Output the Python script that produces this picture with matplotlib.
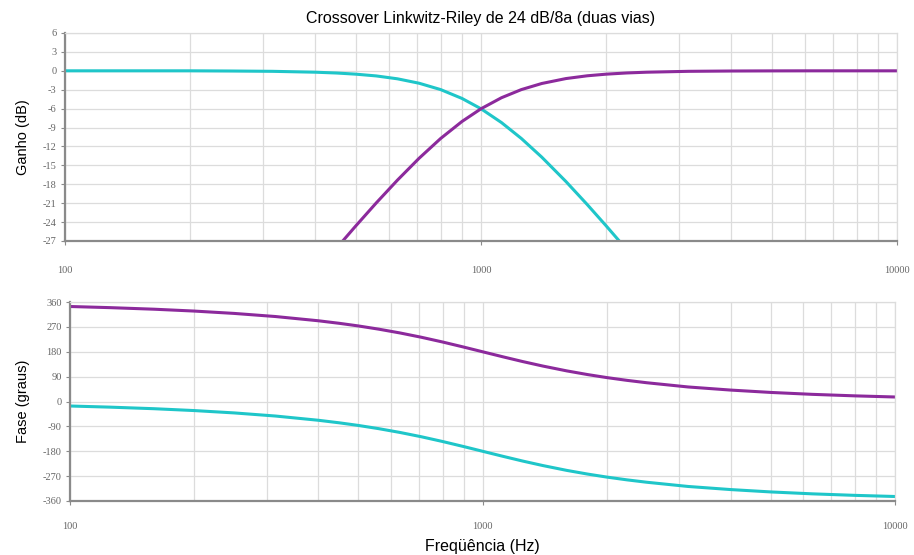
import numpy as np
import matplotlib
matplotlib.use("Agg")
import matplotlib.pyplot as plt
from matplotlib.ticker import FixedLocator, NullFormatter, LogLocator

# ---- data ----
freq = [100, 125, 160, 200, 250, 315, 400, 450, 500, 560, 630, 710, 800, 900,
        1000, 1120, 1250, 1400, 1600, 1800, 2000, 2240, 2500, 3150, 4000, 5000,
        6300, 8000, 10000]

gain_low = [0.0, 0.0, 0.0, 0.0, -0.03, -0.08, -0.22, -0.35, -0.53, -0.81, -1.27,
            -1.97, -2.98, -4.38, -6.02, -8.21, -10.73, -13.70, -17.56, -21.21,
            -24.61, -28.36, -32.05, -40.2, -48.2, -56.0, -64.0, -72.3, -80.0]
gain_high = [-80.0, -72.3, -64.0, -56.0, -48.2, -40.2, -32.05, -28.1, -24.61,
             -20.96, -17.33, -13.87, -10.73, -8.04, -6.02, -4.27, -2.98, -2.01,
             -1.23, -0.79, -0.53, -0.34, -0.22, -0.08, -0.03, -0.01, 0.0, 0.0, 0.0]

phase_low = [-16.3, -20.4, -26.1, -32.8, -41.3, -52.6, -67.9, -77.2, -86.6,
             -98.2, -111.8, -127.4, -144.7, -163.0, -180.0, -198.2, -215.3,
             -231.7, -249.2, -262.7, -273.4, -283.5, -292.1, -307.4, -318.7,
             -327.2, -334.1, -339.6, -343.7]
phase_high = [343.7, 339.6, 333.9, 327.2, 318.7, 307.4, 292.1, 282.8, 273.4,
              261.8, 248.2, 232.6, 215.3, 197.0, 180.0, 161.8, 144.7, 128.3,
              110.8, 97.3, 86.6, 76.5, 67.9, 52.6, 41.3, 32.8, 25.9, 20.4, 16.3]

gain_ticks = [6, 3, 0, -3, -6, -9, -12, -15, -18, -21, -24, -27]
phase_ticks = [360, 270, 180, 90, 0, -90, -180, -270, -360]
x_ticks = [100, 1000, 10000]

title = "Crossover Linkwitz-Riley de 24 dB/8a (duas vias)"

CYAN = "#1fc6c9"
PURPLE = "#8c2a9c"
GRID = "#dcdcdc"
SPINE = "#8a8a8a"
TICKC = "#666666"

plt.rcParams['font.family'] = ['Liberation Sans', 'DejaVu Sans']

fig = plt.figure(figsize=(9.14, 5.55), dpi=100)
ax1 = fig.add_axes([65/914, 1-241/555, 832/914, 208/555])
ax2 = fig.add_axes([70/914, 1-501/555, 825/914, 199/555])


def style(ax, yticks, xpad):
    ax.set_xscale('log')
    ax.set_xlim(100, 10000)
    ax.set_ylim(min(yticks), max(yticks))
    ax.yaxis.set_major_locator(FixedLocator(yticks))
    ax.set_yticklabels([str(t) for t in yticks], fontsize=7.5, color=TICKC,
                       family=['Liberation Serif', 'DejaVu Serif'])
    ax.xaxis.set_major_locator(FixedLocator(x_ticks))
    ax.set_xticklabels([str(t) for t in x_ticks], fontsize=7.5, color=TICKC,
                       family=['Liberation Serif', 'DejaVu Serif'])
    ax.xaxis.set_minor_locator(LogLocator(base=10, subs=np.arange(2, 10)))
    ax.xaxis.set_minor_formatter(NullFormatter())
    ax.grid(True, which='both', axis='x', color=GRID, lw=0.9)
    ax.grid(True, which='major', axis='y', color=GRID, lw=0.9)
    ax.set_axisbelow(True)
    for s in ['top', 'right']:
        ax.spines[s].set_color(GRID)
        ax.spines[s].set_linewidth(0.9)
    for s in ['left', 'bottom']:
        ax.spines[s].set_color(SPINE)
        ax.spines[s].set_linewidth(1.6)
    ax.tick_params(axis='y', which='major', length=3, color=SPINE, pad=3)
    ax.tick_params(axis='x', which='major', length=3, color=SPINE, pad=xpad,
                   direction='out')
    ax.tick_params(axis='x', which='minor', length=0)


style(ax1, gain_ticks, 15)
style(ax2, phase_ticks, 12)

ax1.plot(freq, gain_low, color=CYAN, lw=2.2, solid_capstyle='butt')
ax1.plot(freq, gain_high, color=PURPLE, lw=2.2, solid_capstyle='butt')
ax2.plot(freq, phase_high, color=PURPLE, lw=2.2)
ax2.plot(freq, phase_low, color=CYAN, lw=2.2)

ax1.set_title(title, fontsize=11.5, pad=7)
ax1.set_ylabel("Ganho (dB)", fontsize=10.5, labelpad=9)
ax2.set_ylabel("Fase (graus)", fontsize=10.5, labelpad=9)
ax2.set_xlabel("Freqüência (Hz)", fontsize=11.5, labelpad=6)

fig.savefig("out.png", dpi=100)
